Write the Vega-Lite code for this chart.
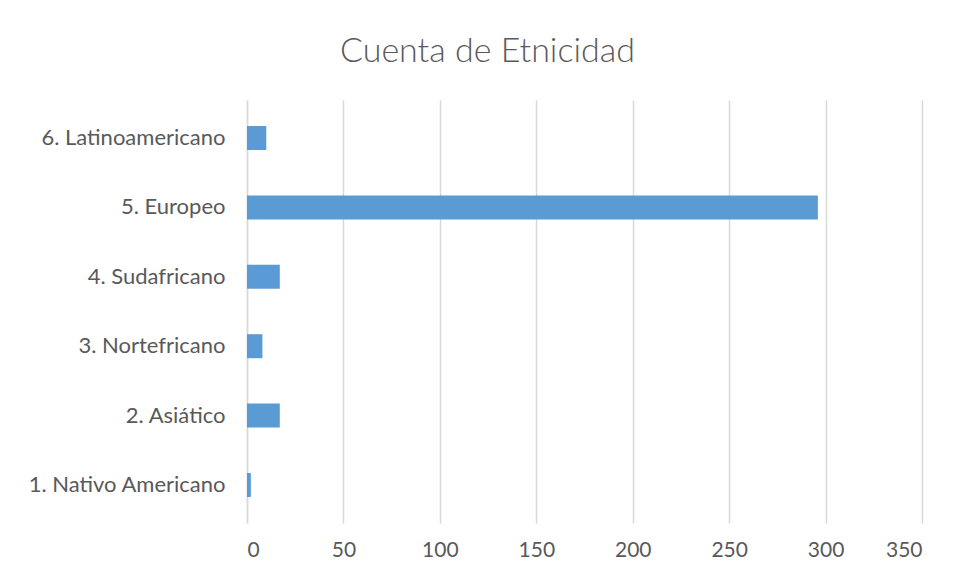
{
  "$schema": "https://vega.github.io/schema/vega-lite/v6.json",
  "autosize": "none",
  "width": 675,
  "height": 423,
  "padding": {"left": 247, "top": 100, "right": 34, "bottom": 54},
  "background": "white",
  "title": {
    "text": "Cuenta de Etnicidad",
    "anchor": "middle",
    "dx": -97,
    "offset": 31,
    "font": "Lato",
    "fontSize": 34,
    "fontWeight": 300,
    "color": "#595959"
  },
  "data": {
    "values": [
      {"etnicidad": "6. Latinoamericano", "cuenta": 10},
      {"etnicidad": "5. Europeo", "cuenta": 296},
      {"etnicidad": "4. Sudafricano", "cuenta": 17},
      {"etnicidad": "3. Nortefricano", "cuenta": 8},
      {"etnicidad": "2. Asiático", "cuenta": 17},
      {"etnicidad": "1. Nativo Americano", "cuenta": 2}
    ]
  },
  "mark": {"type": "bar", "color": "#5b9bd5"},
  "encoding": {
    "y": {
      "field": "etnicidad",
      "type": "nominal",
      "sort": null,
      "scale": {"paddingInner": 0.654, "paddingOuter": 0.375},
      "axis": {
        "title": null,
        "ticks": false,
        "domain": true,
        "domainColor": "#d9d9d9",
        "domainWidth": 1.5,
        "labelFont": "Lato",
        "labelFontSize": 22,
        "labelLimit": 260,
        "labelColor": "#595959",
        "labelPadding": 22
      }
    },
    "x": {
      "field": "cuenta",
      "type": "quantitative",
      "scale": {"domain": [0, 350], "nice": false},
      "axis": {
        "title": null,
        "values": [0, 50, 100, 150, 200, 250, 300, 350],
        "ticks": false,
        "domain": false,
        "grid": true,
        "gridColor": "#d9d9d9",
        "gridWidth": 1.5,
        "labelFont": "Lato",
        "labelFontSize": 21,
        "labelColor": "#595959",
        "labelPadding": 16
      }
    }
  },
  "config": {"view": {"stroke": null}}
}
